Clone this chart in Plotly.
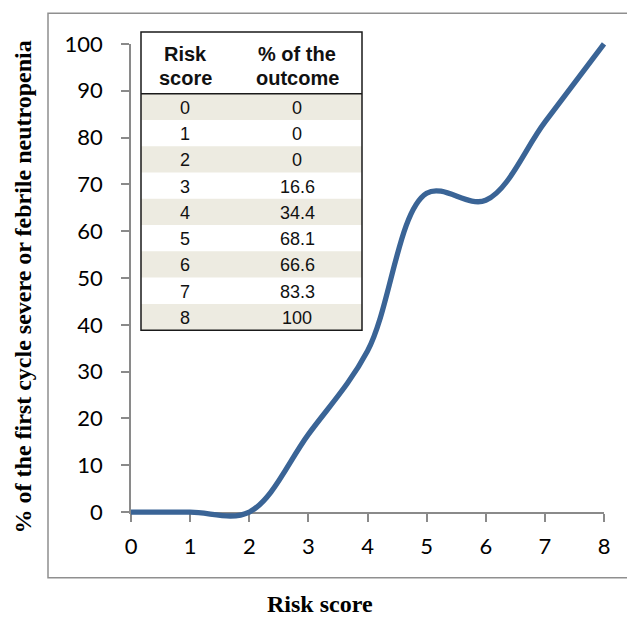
import plotly.graph_objects as go

# ---- data ----
risk_score = [0, 1, 2, 3, 4, 5, 6, 7, 8]
pct_outcome = [0, 0, 0, 16.6, 34.4, 68.1, 66.6, 83.3, 100]
pct_labels = ["0", "0", "0", "16.6", "34.4", "68.1", "66.6", "83.3", "100"]
x_ticks = [0, 1, 2, 3, 4, 5, 6, 7, 8]
y_ticks = [0, 10, 20, 30, 40, 50, 60, 70, 80, 90, 100]

# ---- layout geometry (screen pixels; page body has an 8px offset) ----
W, H = 635, 619
OFF = 8
PL, PR, PT, PB = 121, 614, 31, 522          # outer (line) plot area on screen
AX_L, AX_R, AX_T, AX_B = 131, 604, 41, 512  # axis box on screen


def px(x):
    return (x - PL) / (PR - PL)


def py(y):
    return (PB - y) / (PB - PT)


X_RANGE = [0, 8]
Y_RANGE = [0, 100]
xd = [px(AX_L), px(AX_R)]
yd = [py(AX_B), py(AX_T)]


def ext_range(rng, dom):
    span = (rng[1] - rng[0]) / (dom[1] - dom[0])
    return [rng[0] - dom[0] * span, rng[1] + (1 - dom[1]) * span]


AXIS_GRAY = "#8a8a8a"
LINE_BLUE = "#3a6496"
TICK_FONT = dict(family="Lato, 'Open Sans', sans-serif", size=22, color="black")

fig = go.Figure()
fig.add_trace(go.Scatter(
    x=risk_score, y=pct_outcome, mode="lines",
    line=dict(color=LINE_BLUE, width=5.3, shape="spline", smoothing=1),
    xaxis="x2", yaxis="y2", hoverinfo="x+y", showlegend=False,
))
# invisible trace on the main axes so they render
fig.add_trace(go.Scatter(x=risk_score, y=pct_outcome, mode="lines",
                         line=dict(width=0), showlegend=False, hoverinfo="skip"))

fig.update_layout(
    width=W, height=H,
    margin=dict(l=PL - OFF, r=W - (PR - OFF), t=PT - OFF, b=H - (PB - OFF)),
    paper_bgcolor="white", plot_bgcolor="rgba(0,0,0,0)",
    showlegend=False,
    xaxis=dict(domain=xd, range=X_RANGE, tickvals=x_ticks, showgrid=False, zeroline=False,
               showline=True, linecolor=AXIS_GRAY, linewidth=1.5,
               ticks="outside", ticklen=8, tickcolor=AXIS_GRAY, tickwidth=1.5,
               tickfont=TICK_FONT, ticklabelstandoff=6, anchor="y"),
    yaxis=dict(domain=yd, range=Y_RANGE, tickvals=y_ticks, showgrid=False, zeroline=False,
               showline=True, linecolor=AXIS_GRAY, linewidth=1.5,
               ticks="outside", ticklen=8, tickcolor=AXIS_GRAY, tickwidth=1.5,
               tickfont=TICK_FONT, ticklabelstandoff=14, anchor="x"),
    xaxis2=dict(domain=[0, 1], range=ext_range(X_RANGE, xd), visible=False, anchor="y2",
                fixedrange=True),
    yaxis2=dict(domain=[0, 1], range=ext_range(Y_RANGE, yd), visible=False, anchor="x2",
                fixedrange=True),
)

shapes = []
annots = []

# outer frame
shapes.append(dict(type="rect", xref="paper", yref="paper",
                   x0=px(48), x1=px(660), y0=py(578), y1=py(10),
                   line=dict(color="#8f8f8f", width=1.5), layer="below"))

# axis titles
TITLE_FONT = dict(family="'Liberation Serif', 'Times New Roman', serif",
                  size=24, color="black", weight="bold")
annots.append(dict(xref="paper", yref="paper", x=px(23), y=py(286),
                   text="% of the first cycle severe or febrile neutropenia",
                   textangle=-90, showarrow=False, xanchor="center", yanchor="middle",
                   font=TITLE_FONT))
annots.append(dict(xref="paper", yref="paper", x=px(320), y=py(605),
                   text="Risk score", showarrow=False, xanchor="center", yanchor="middle",
                   font=TITLE_FONT))

# inset table
T_L, T_R, T_T, T_HB, T_B = 141, 362, 29, 91, 329
C1, C2 = 185, 297
row_h = (T_B - T_HB) / len(risk_score)
shapes.append(dict(type="rect", xref="paper", yref="paper",
                   x0=px(T_L), x1=px(T_R), y0=py(T_B), y1=py(T_T),
                   fillcolor="white", line=dict(width=0), layer="above"))
cell_font = dict(family="'Liberation Sans', Arial, sans-serif", size=18, color="#111")
for i, (rs, lab) in enumerate(zip(risk_score, pct_labels)):
    top = T_HB + i * row_h
    if i % 2 == 0:
        shapes.append(dict(type="rect", xref="paper", yref="paper",
                           x0=px(T_L), x1=px(T_R), y0=py(top + row_h), y1=py(top),
                           fillcolor="#edebe1", line=dict(width=0), layer="above"))
    yc = py(top + row_h / 2 + 1)
    annots.append(dict(xref="paper", yref="paper", x=px(C1), y=yc, text=str(rs),
                       showarrow=False, xanchor="center", yanchor="middle", font=cell_font))
    annots.append(dict(xref="paper", yref="paper", x=px(C2), y=yc, text=lab,
                       showarrow=False, xanchor="center", yanchor="middle", font=cell_font))

shapes.append(dict(type="rect", xref="paper", yref="paper",
                   x0=px(T_L), x1=px(T_R), y0=py(T_B), y1=py(T_T),
                   line=dict(color="#1a1a1a", width=1.5), layer="above"))
shapes.append(dict(type="line", xref="paper", yref="paper",
                   x0=px(T_L), x1=px(T_R), y0=py(T_HB), y1=py(T_HB),
                   line=dict(color="#1a1a1a", width=1.5), layer="above"))

hdr_font = dict(family="'Liberation Sans', Arial, sans-serif", size=20, color="#111",
                weight="bold")
for xc, l1, l2 in [(C1, "Risk", "score"), (C2, "% of the", "outcome")]:
    annots.append(dict(xref="paper", yref="paper", x=px(xc), y=py(51), text=l1,
                       showarrow=False, xanchor="center", yanchor="middle", font=hdr_font))
    annots.append(dict(xref="paper", yref="paper", x=px(xc), y=py(75), text=l2,
                       showarrow=False, xanchor="center", yanchor="middle", font=hdr_font))

fig.update_layout(shapes=shapes, annotations=annots)
fig.write_html("out.html")
